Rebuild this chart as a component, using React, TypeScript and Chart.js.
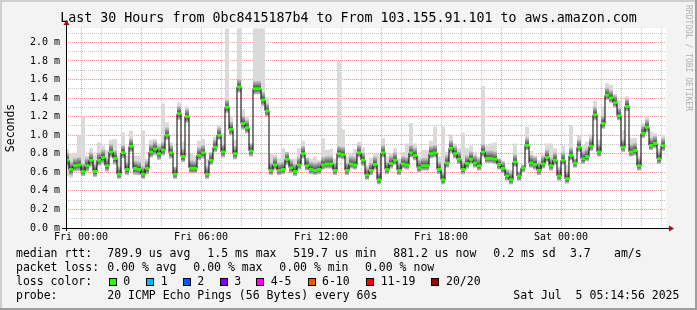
import React, { useEffect, useRef } from 'react';
import { Chart, registerables } from 'chart.js';

Chart.register(...registerables);

const FONT = "'DejaVu Sans Mono', monospace";

// ---------- text ----------
const titleText = 'Last 30 Hours from 0bc8415187b4 to From 103.155.91.101 to aws.amazon.com';
const yAxisTitle = 'Seconds';
const watermark = 'RRDTOOL / TOBI OETIKER';

// ---------- time base (hours relative to Fri 00:00) ----------
const STEP_HOURS = 0.2; // 12-minute consolidation steps
const FIRST_STEP_HOUR = -0.8;
const X_MIN = -0.75;
const X_MAX = 29.25;
const Y_MAX = 2.155;

// ---------- data (milliseconds) ----------
const medianMs = [
  0.73, 0.63, 0.67, 0.68, 0.61, 0.67, 0.73, 0.61, 0.73, 0.76,
  0.67, 0.82, 0.75, 0.58, 0.81, 0.63, 0.88, 0.64, 0.63, 0.58,
  0.64, 0.82, 0.85, 0.80, 0.84, 1.00,
  0.81, 0.58, 1.23, 0.77, 1.20, 0.645, 0.64, 0.785, 0.81, 0.58,
  0.73, 0.87, 1.00, 0.82, 1.30, 1.06, 0.80, 1.52, 1.125, 1.08,
  0.83, 1.50, 1.50, 1.38, 1.26,
  0.62, 0.68, 0.62, 0.63, 0.74, 0.65, 0.61, 0.68, 0.80, 0.67,
  0.63, 0.62, 0.63, 0.68, 0.69, 0.69, 0.62, 0.80, 0.79, 0.62,
  0.69, 0.68, 0.81, 0.73, 0.57,
  0.62, 0.685, 0.52, 0.81, 0.63, 0.695, 0.73, 0.62, 0.69, 0.68,
  0.81, 0.78, 0.65, 0.67, 0.67, 0.80, 0.81, 0.63, 0.52, 0.70,
  0.86, 0.80, 0.74, 0.63, 0.695,
  0.74, 0.70, 0.67, 0.82, 0.75, 0.75, 0.74, 0.685, 0.64, 0.56,
  0.52, 0.71, 0.56, 0.65, 0.89, 0.70, 0.685, 0.62, 0.69, 0.76,
  0.67, 0.73, 0.56, 0.73, 0.53,
  0.78, 0.70, 0.87, 0.745, 0.77, 0.88, 1.22, 0.82, 1.125, 1.43,
  1.40, 1.35, 1.21, 0.87, 1.31, 0.82, 0.835, 0.67, 1.02, 1.085,
  0.89, 0.91, 0.745, 0.885,
];

const smokeMaxMs = [
  0.85, 0.80, 0.80, 1.00, 1.20, 0.78, 0.86, 0.79, 0.92, 0.89,
  0.84, 0.95, 0.96, 0.78, 1.03, 0.78, 1.05, 0.78, 0.78, 1.05,
  0.75, 0.95, 0.96, 0.91, 1.34, 1.14,
  0.92, 0.66, 1.35, 0.93, 1.31, 0.80, 0.78, 0.94, 0.96, 0.75,
  0.82, 0.98, 1.11, 1.02, 2.15, 1.21, 0.95, 2.15, 1.28, 1.20,
  0.91, 2.15, 2.15, 2.15, 1.41,
  0.80, 0.79, 0.75, 0.86, 0.82, 0.75, 0.75, 0.86, 0.94, 0.76,
  0.75, 0.77, 0.73, 0.97, 0.84, 0.85, 0.75, 1.80, 1.06, 0.77,
  0.80, 0.85, 0.93, 0.87, 0.68,
  0.76, 0.80, 0.80, 0.97, 0.77, 0.80, 0.86, 0.75, 0.82, 0.91,
  1.13, 0.91, 0.77, 0.84, 0.84, 0.94, 1.09, 0.77, 1.09, 0.82,
  1.01, 0.91, 0.86, 1.03, 0.86,
  0.89, 0.82, 0.77, 1.53, 0.89, 0.91, 0.92, 0.75, 0.72, 0.63,
  0.63, 0.91, 0.61, 0.68, 1.09, 0.83, 0.78, 0.73, 0.80, 0.91,
  0.91, 0.86, 0.66, 0.89, 0.68,
  1.11, 0.75, 1.00, 0.89, 0.93, 1.01, 1.37, 0.95, 1.31, 1.56,
  1.54, 1.44, 1.38, 1.05, 1.42, 0.97, 0.97, 0.78, 1.13, 1.21,
  1.04, 1.02, 0.86, 1.00,
];

const smokeMinMs = [
  0.56, 0.54, 0.61, 0.61, 0.56, 0.61, 0.66, 0.55, 0.67, 0.68,
  0.61, 0.76, 0.68, 0.53, 0.75, 0.57, 0.82, 0.57, 0.57, 0.53,
  0.58, 0.76, 0.78, 0.73, 0.78, 0.95,
  0.75, 0.53, 1.16, 0.71, 1.13, 0.59, 0.59, 0.73, 0.75, 0.53,
  0.68, 0.82, 0.95, 0.76, 1.24, 1.00, 0.74, 1.46, 1.06, 1.02,
  0.77, 1.44, 1.44, 1.31, 1.20,
  0.57, 0.63, 0.57, 0.58, 0.68, 0.59, 0.56, 0.63, 0.75, 0.62,
  0.58, 0.57, 0.58, 0.63, 0.64, 0.64, 0.57, 0.75, 0.74, 0.57,
  0.64, 0.63, 0.76, 0.67, 0.52,
  0.57, 0.63, 0.47, 0.76, 0.58, 0.64, 0.68, 0.57, 0.64, 0.63,
  0.76, 0.73, 0.60, 0.62, 0.62, 0.75, 0.76, 0.58, 0.47, 0.65,
  0.81, 0.75, 0.69, 0.58, 0.64,
  0.69, 0.65, 0.62, 0.77, 0.70, 0.70, 0.69, 0.63, 0.59, 0.51,
  0.47, 0.66, 0.51, 0.60, 0.84, 0.65, 0.63, 0.57, 0.64, 0.71,
  0.62, 0.68, 0.51, 0.68, 0.48,
  0.73, 0.65, 0.82, 0.69, 0.72, 0.83, 1.16, 0.77, 1.07, 1.38,
  1.35, 1.30, 1.16, 0.82, 1.26, 0.77, 0.78, 0.62, 0.97, 1.03,
  0.84, 0.86, 0.69, 0.83,
];

// ---------- axes ----------
const xGridHours = [0, 1, 2, 3, 4, 5, 6, 7, 8, 9, 10, 11, 12, 13, 14, 15, 16, 17, 18, 19, 20, 21, 22, 23, 24, 25, 26, 27, 28, 29];
const xLabelHours = [0, 6, 12, 18, 24];
const xLabels = ['Fri 00:00', 'Fri 06:00', 'Fri 12:00', 'Fri 18:00', 'Sat 00:00'];
const yGridValues = [0, 0.1, 0.2, 0.3, 0.4, 0.5, 0.6, 0.7, 0.8, 0.9, 1.0, 1.1, 1.2, 1.3, 1.4, 1.5, 1.6, 1.7, 1.8, 1.9, 2.0, 2.1];
const yLabelValues = [0, 0.2, 0.4, 0.6, 0.8, 1.0, 1.2, 1.4, 1.6, 1.8, 2.0];
const yLabels = ['0.0 m', '0.2 m', '0.4 m', '0.6 m', '0.8 m', '1.0 m', '1.2 m', '1.4 m', '1.6 m', '1.8 m', '2.0 m'];

// ---------- legend text ----------
const rttLegend = ['median rtt:', '789.9 us avg', '1.5 ms max', '519.7 us min', '881.2 us now', '0.2 ms sd', '3.7', 'am/s'];
const lossLegend = ['packet loss:', '0.00 % avg', '0.00 % max', '0.00 % min', '0.00 % now'];
const lossColorTitle = 'loss color:';
const lossColorLabels = ['0', '1', '2', '3', '4-5', '6-10', '11-19', '20/20'];
const lossColors = ['#26ff00', '#00b8ff', '#0059ff', '#7e00ff', '#ff00ff', '#ff5500', '#ff0000', '#a10000'];
const probeLegend = ['probe:', '20 ICMP Echo Pings (56 Bytes) every 60s', 'Sat Jul  5 05:14:56 2025'];

// ---------- derived tables for the library ----------
const stepStarts = medianMs.map((_, i) => FIRST_STEP_HOUR + i * STEP_HOURS);
const steppedPoints = (vals: number[]) => {
  const pts = vals.map((v, i) => ({ x: stepStarts[i], y: v }));
  pts.push({ x: stepStarts[vals.length - 1] + STEP_HOURS, y: vals[vals.length - 1] });
  return pts;
};
const greenPoints: { x: number; y: number | null }[] = [];
medianMs.forEach((v, i) => {
  greenPoints.push({ x: stepStarts[i], y: v });
  greenPoints.push({ x: stepStarts[i] + STEP_HOURS, y: v });
  greenPoints.push({ x: stepStarts[i] + STEP_HOURS, y: null });
});

const RED_GRID = 'rgba(230,60,60,0.5)';
const GRAY_GRID = 'rgba(140,140,140,0.5)';

const smokePlugin = {
  id: 'smokeping',
  beforeDraw(chart: any) {
    const { ctx, width, height, chartArea: a } = chart;
    ctx.save();
    ctx.fillStyle = '#f3f3f3';
    ctx.fillRect(0, 0, width, height);
    ctx.fillStyle = '#cfcfcf';
    ctx.fillRect(0, 0, width, 2);
    ctx.fillRect(0, 0, 2, height);
    ctx.fillStyle = '#9e9e9e';
    ctx.fillRect(0, height - 2, width, 2);
    ctx.fillRect(width - 2, 0, 2, height);
    ctx.fillStyle = '#ffffff';
    ctx.fillRect(a.left, a.top, a.right - a.left, a.bottom - a.top);
    ctx.restore();
  },
  afterDatasetDraw(chart: any, args: any) {
    if (args.index !== 2) return;
    const { ctx, chartArea: a } = chart;
    const xs = chart.scales.x;
    const ys = chart.scales.y;
    ctx.save();
    ctx.beginPath();
    ctx.rect(a.left, a.top, a.right - a.left, a.bottom - a.top);
    ctx.clip();
    medianMs.forEach((m, i) => {
      const x0 = xs.getPixelForValue(stepStarts[i]);
      const x1 = xs.getPixelForValue(stepStarts[i] + STEP_HOURS);
      const ym = ys.getPixelForValue(m);
      const yTop = Math.max(ys.getPixelForValue(smokeMaxMs[i]), ym - 8);
      const yBot = Math.min(ys.getPixelForValue(smokeMinMs[i]), ym + 6);
      if (yBot - yTop < 1) return;
      const g = ctx.createLinearGradient(0, yTop, 0, yBot);
      const f = Math.min(0.99, Math.max(0.01, (ym - yTop) / (yBot - yTop)));
      g.addColorStop(0, 'rgb(205,205,205)');
      g.addColorStop(f, 'rgb(60,60,60)');
      g.addColorStop(1, 'rgb(200,200,200)');
      ctx.fillStyle = g;
      ctx.fillRect(x0, yTop, x1 - x0, yBot - yTop);
    });
    ctx.restore();
  },
  afterDraw(chart: any) {
    const { ctx, chartArea: a } = chart;
    ctx.save();
    // axes
    ctx.strokeStyle = '#000';
    ctx.lineWidth = 1;
    ctx.beginPath();
    ctx.moveTo(a.left - 4, a.bottom + 0.5);
    ctx.lineTo(a.right + 3, a.bottom + 0.5);
    ctx.moveTo(a.left + 0.5, a.bottom + 3);
    ctx.lineTo(a.left + 0.5, a.top - 3);
    ctx.stroke();
    ctx.fillStyle = '#a01010';
    ctx.beginPath();
    ctx.moveTo(a.right + 3, a.bottom - 2.5);
    ctx.lineTo(a.right + 3, a.bottom + 3.5);
    ctx.lineTo(a.right + 8, a.bottom + 0.5);
    ctx.closePath();
    ctx.fill();
    ctx.beginPath();
    ctx.moveTo(a.left - 2.5, a.top - 3);
    ctx.lineTo(a.left + 3.5, a.top - 3);
    ctx.lineTo(a.left + 0.5, a.top - 8);
    ctx.closePath();
    ctx.fill();

    // watermark
    ctx.save();
    ctx.translate(688.5, 5);
    ctx.rotate(Math.PI / 2);
    ctx.fillStyle = '#b0b0b0';
    ctx.font = `8px ${FONT}`;
    ctx.textAlign = 'left';
    ctx.textBaseline = 'middle';
    ctx.fillText(watermark, 0, 0);
    ctx.restore();

    // legend
    ctx.fillStyle = '#000';
    ctx.font = `11.5px ${FONT}`;
    ctx.textAlign = 'left';
    ctx.textBaseline = 'middle';
    const rttX = [16, 107.3, 207.3, 293.3, 393.3, 493.3, 570, 614];
    rttLegend.forEach((t, i) => ctx.fillText(t, rttX[i], 254.5));
    const lossX = [16, 107.3, 193.3, 279.3, 365];
    lossLegend.forEach((t, i) => ctx.fillText(t, lossX[i], 268.5));
    ctx.fillText(lossColorTitle, 16, 282.5);
    const boxX = [109, 146, 183, 219.5, 256, 307.5, 366, 431];
    const labX = [123.3, 160.7, 197.3, 234.3, 270.7, 322, 380.7, 446];
    lossColorLabels.forEach((t, i) => {
      ctx.fillStyle = lossColors[i];
      ctx.fillRect(Math.round(boxX[i]), 278, 8, 8);
      ctx.strokeStyle = '#000';
      ctx.strokeRect(Math.round(boxX[i]) + 0.5, 278.5, 7, 7);
      ctx.fillStyle = '#000';
      ctx.fillText(t, labX[i], 282.5);
    });
    const probeX = [16, 107.3, 513.3];
    probeLegend.forEach((t, i) => ctx.fillText(t, probeX[i], 296));
    ctx.restore();
  },
};

export default function App() {
  const ref = useRef<HTMLCanvasElement | null>(null);
  useEffect(() => {
    if (!ref.current) return;
    const chart = new Chart(ref.current, {
      type: 'line',
      data: {
        datasets: [
          {
            label: 'loss 0',
            data: greenPoints as any,
            borderColor: '#26ff00',
            borderWidth: 3,
            borderCapStyle: 'butt',
            pointRadius: 0,
            spanGaps: false,
            fill: false,
          },
          {
            label: 'median',
            data: steppedPoints(medianMs),
            borderColor: '#000000',
            borderWidth: 1,
            stepped: true,
            pointRadius: 0,
            fill: false,
          },
          {
            label: 'smoke max',
            data: steppedPoints(smokeMaxMs),
            borderColor: 'transparent',
            borderWidth: 1,
            backgroundColor: '#dadada',
            stepped: true,
            pointRadius: 0,
            fill: '+1',
          },
          {
            label: 'smoke min',
            data: steppedPoints(smokeMinMs),
            borderColor: 'transparent',
            borderWidth: 1,
            stepped: true,
            pointRadius: 0,
            fill: false,
          },
        ],
      },
      options: {
        responsive: false,
        animation: false,
        events: [],
        layout: { padding: { left: 0, right: 0, top: 0, bottom: 0 } },
        plugins: {
          legend: { display: false },
          tooltip: { enabled: false },
          title: {
            display: true,
            text: titleText,
            color: '#000',
            font: { family: FONT, size: 13.3, weight: 'normal' },
            padding: { top: 11, bottom: 1 },
          },
        },
        scales: {
          x: {
            type: 'linear',
            min: X_MIN,
            max: X_MAX,
            afterBuildTicks: (s: any) => {
              s.ticks = xGridHours.map((v) => ({ value: v }));
            },
            afterFit: (s: any) => {
              s.height = 82;
            },
            ticks: {
              autoSkip: false,
              maxRotation: 0,
              minRotation: 0,
              padding: 3,
              color: '#000',
              font: { family: FONT, size: 10 },
              callback: (v: any) => {
                const i = xLabelHours.indexOf(Number(v));
                return i >= 0 ? xLabels[i] : '';
              },
            },
            grid: {
              drawTicks: false,
              lineWidth: 1,
              color: (c: any) => (c.tick && c.tick.value % 3 === 0 ? RED_GRID : GRAY_GRID),
            },
            border: { display: false, dash: [1, 1] },
          },
          y: {
            min: 0,
            max: Y_MAX,
            afterBuildTicks: (s: any) => {
              s.ticks = yGridValues.map((v) => ({ value: v }));
            },
            afterFit: (s: any) => {
              s.width = 66;
            },
            ticks: {
              autoSkip: false,
              padding: 6,
              color: '#000',
              font: { family: FONT, size: 10 },
              callback: (v: any) => {
                const i = yLabelValues.findIndex((y) => Math.abs(y - Number(v)) < 1e-6);
                return i >= 0 ? yLabels[i] : '';
              },
            },
            grid: {
              drawTicks: false,
              lineWidth: 1,
              color: (c: any) =>
                c.tick && Math.round(c.tick.value * 10) % 2 === 0 ? RED_GRID : GRAY_GRID,
            },
            border: { display: false, dash: [1, 1] },
            title: {
              display: true,
              text: yAxisTitle,
              color: '#000',
              font: { family: FONT, size: 11.5 },
              padding: { top: 4, bottom: 0 },
            },
          },
          yRight: {
            position: 'right',
            display: true,
            min: 0,
            max: Y_MAX,
            ticks: { display: false },
            grid: { display: false, drawOnChartArea: false },
            border: { display: false },
            afterFit: (s: any) => {
              s.width = 31;
            },
          },
        },
      } as any,
      plugins: [smokePlugin],
    });
    return () => chart.destroy();
  }, []);

  return (
    <div style={{ position: 'absolute', left: 0, top: 0, width: 697, height: 310 }}>
      <canvas ref={ref} width={697} height={310} style={{ display: 'block', width: 697, height: 310 }} />
    </div>
  );
}
